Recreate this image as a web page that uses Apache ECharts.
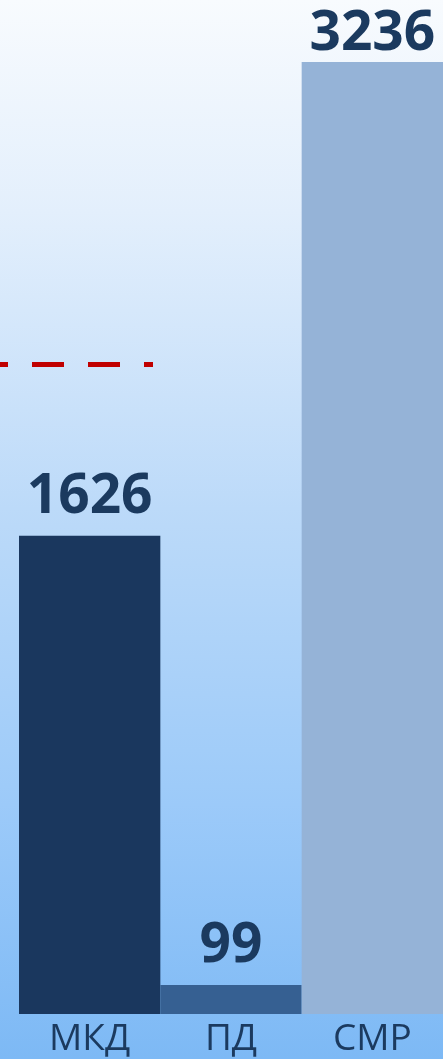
<!DOCTYPE html>
<html>
<head>
<meta charset="utf-8">
<script src="https://cdn.jsdelivr.net/npm/echarts@6/dist/echarts.min.js"></script>
<style>
  html, body { margin: 0; padding: 0; }
  #chart { width: 443px; height: 1059px; }
</style>
</head>
<body>
<div id="chart"></div>
<script>
// chart data
const categories = ["МКД", "ПД", "СМР"];
const values = [1626, 99, 3236];
const barColors = ["#1a375e", "#366092", "#95b3d7"];
const thresholdValue = 2208;

const chart = echarts.init(document.getElementById("chart"));

const option = {
  animation: false,
  backgroundColor: new echarts.graphic.LinearGradient(0, 0, 0, 1, [
    { offset: 0, color: "#f8fbfe" },
    { offset: 0.2, color: "#e3effc" },
    { offset: 0.48, color: "#bcdaf9" },
    { offset: 0.76, color: "#9ccaf9" },
    { offset: 1, color: "#7db9f5" },
  ]),
  grid: { left: 19, right: -2, top: 62, bottom: 45, containLabel: false },
  xAxis: {
    type: "category",
    data: categories,
    axisLine: { show: false },
    axisTick: { show: false },
    axisLabel: {
      color: "#1b3a5f",
      fontFamily: "Open Sans",
      fontSize: 37,
      margin: 7,
    },
  },
  yAxis: {
    type: "value",
    min: 0,
    max: 3236,
    show: false,
    splitLine: { show: false },
  },
  series: [
    {
      type: "bar",
      barCategoryGap: "0%",
      data: values.map((v, i) => ({
        value: v,
        itemStyle: { color: barColors[i] },
        label: i === 2 ? { distance: 0 } : {},
      })),
      label: {
        show: true,
        position: "top",
        distance: 11,
        color: "#1b3a5f",
        fontFamily: "Open Sans",
        fontWeight: "bold",
        fontSize: 55,
      },
      markLine: {
        silent: true,
        symbol: "none",
        label: { show: false },
        lineStyle: {
          color: "#c00000",
          width: 5,
          type: [32, 24],
          dashOffset: 24,
        },
        data: [[{ x: 0, yAxis: thresholdValue }, { x: 153, yAxis: thresholdValue }]],
      },
    },
  ],
};

chart.setOption(option);
</script>
</body>
</html>
